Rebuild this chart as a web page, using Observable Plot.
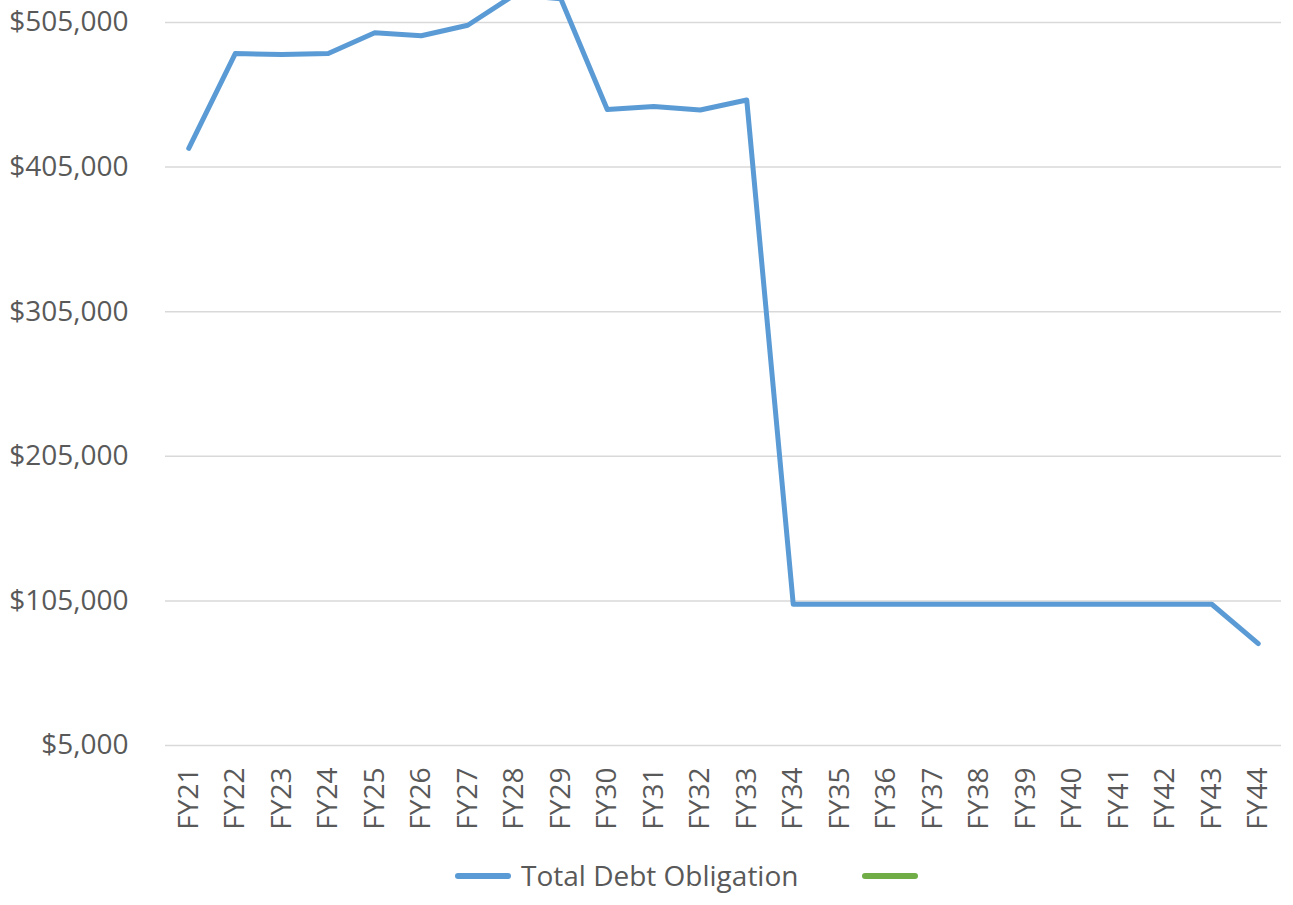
<!DOCTYPE html>
<html>
<head>
<meta charset="utf-8">
<script src="https://cdn.jsdelivr.net/npm/d3@7"></script>
<script src="https://cdn.jsdelivr.net/npm/@observablehq/plot@0.6"></script>
<style>
  html, body { margin: 0; padding: 0; background: #fff; }
  body { width: 1293px; height: 905px; overflow: hidden; font-family: "Open Sans", sans-serif; }
  #legend { position: relative; height: 60px; }
  .sw { position: absolute; height: 6px; border-radius: 3px; top: 28px; }
  .lt { position: absolute; top: 10px; font-size: 28px; color: #595959; line-height: 40px; white-space: nowrap; }
</style>
</head>
<body>
<div id="chart"></div>
<div id="legend"></div>
<script>
const years = ["FY21","FY22","FY23","FY24","FY25","FY26","FY27","FY28","FY29","FY30","FY31","FY32",
  "FY33","FY34","FY35","FY36","FY37","FY38","FY39","FY40","FY41","FY42","FY43","FY44"];
const totalDebt = [418000, 483500, 482900, 483600, 497900, 495800, 503100, 524000, 521500, 444800, 446900, 444500,
  451400, 102700, 102700, 102700, 102700, 102700, 102700, 102700, 102700, 102700, 102700, 75500];
const yTicks = [5000, 105000, 205000, 305000, 405000, 505000];
const seriesNames = ["Total Debt Obligation", ""];
const seriesColors = ["#5b9bd5", "#70ad47"];

const data = years.map((fy, i) => ({fy, value: totalDebt[i]}));
const fmt = v => "$" + d3.format(",")(v);

const chart = Plot.plot({
  width: 1293,
  height: 845,
  marginTop: 22,
  marginBottom: 100,
  marginLeft: 165,
  marginRight: 12,
  style: {fontFamily: "Open Sans, sans-serif", color: "#595959", background: "#fff"},
  x: {type: "point", domain: years, padding: 0.5, round: false},
  y: {domain: [5000, 505000]},
  marks: [
    Plot.gridY(yTicks, {stroke: "#d9d9d9", strokeOpacity: 1, strokeWidth: 1.5}),
    Plot.axisY({ticks: yTicks, tickSize: 0, tickPadding: 37, tickFormat: fmt, fontSize: 28, fill: "#595959", label: null}),
    Plot.axisX({tickSize: 0, tickPadding: 22, tickRotate: -90, fontSize: 28, fill: "#595959", label: null}),
    Plot.lineY(data, {x: "fy", y: "value", stroke: seriesColors[0], strokeWidth: 5, strokeLinejoin: "round", strokeLinecap: "round"})
  ]
});
document.getElementById("chart").appendChild(chart);

const legend = document.getElementById("legend");
legend.innerHTML = `
  <div class="sw" style="left:455px;width:56px;background:${seriesColors[0]}"></div>
  <div class="lt" style="left:521px">${seriesNames[0]}</div>
  <div class="sw" style="left:862px;width:56px;background:${seriesColors[1]}"></div>
  <div class="lt" style="left:930px">${seriesNames[1]}</div>`;
</script>
</body>
</html>
